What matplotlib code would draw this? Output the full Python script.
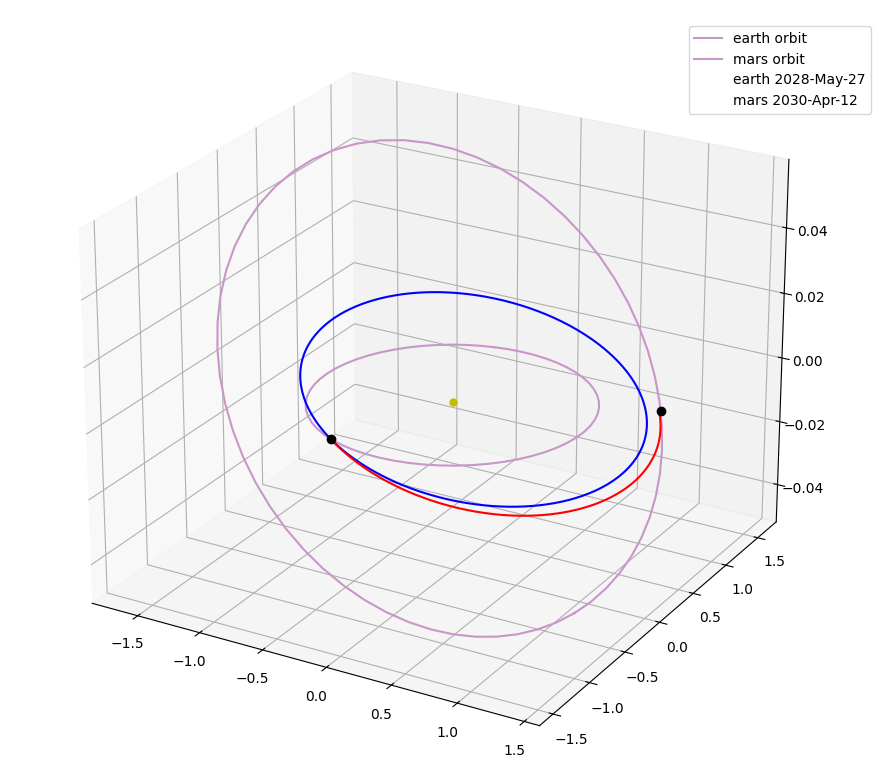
import numpy as np
import matplotlib
matplotlib.use("Agg")
import matplotlib.pyplot as plt

# orbital elements: a [AU], e, i [deg], node [deg], arg of perihelion [deg]
earth_el = [1.0, 0.0167, 0.0, 0.0, 102.94]
mars_el = [1.5237, 0.0934, 1.85, 48.5, 287.5]
transfer_el = [1.19, 0.149, 0.62, 65.9, 180.0]   # blue
lambert_el = [1.2446, 0.1863, 0.72, 65.9, 180.0]  # red arc

# true anomaly of the planets on the two dates [deg]
earth_nu = 143.0
mars_nu = 63.6
arc_nu = [0.0, 153.8]

n_orbit = 60
labels = ["earth orbit", "mars orbit", "earth 2028-May-27", "mars 2030-Apr-12"]
orbit_color = "#c896c8"
z_ticks = [-0.04, -0.02, 0.0, 0.02, 0.04]


def kepler_xyz(el, nu_deg):
    a, e, inc, node, w = el
    nu = np.radians(nu_deg)
    inc, node, w = np.radians(inc), np.radians(node), np.radians(w)
    r = a * (1 - e**2) / (1 + e * np.cos(nu))
    u = w + nu
    x = r * (np.cos(node) * np.cos(u) - np.sin(node) * np.sin(u) * np.cos(inc))
    y = r * (np.sin(node) * np.cos(u) + np.cos(node) * np.sin(u) * np.cos(inc))
    z = r * np.sin(u) * np.sin(inc)
    return x, y, z


def old_lims(v):
    # 5% margins plus the extra 1/48 padding older mpl drew around the box
    lo, hi = np.min(v), np.max(v)
    d = (hi - lo) * 0.05
    lo, hi = lo - d, hi + d
    d = (hi - lo) / 48
    return lo - d, hi + d


side = 802
cx, cy = 430, 392
fig = plt.figure(figsize=(8.96, 7.79), dpi=100)
ax = fig.add_subplot(projection="3d")
ax.set_position([(cx - side / 2) / 896, (779 - cy - side / 2) / 779,
                 side / 896, side / 779])
ax.set_box_aspect((4, 4, 3.16))
ax.view_init(elev=24.0, azim=-60)

nu_full = np.linspace(0, 360, n_orbit + 1)
earth_orb = kepler_xyz(earth_el, nu_full)
mars_orb = kepler_xyz(mars_el, nu_full)
ax.plot(*earth_orb, color=orbit_color, label=labels[0])
ax.plot(*mars_orb, color=orbit_color, label=labels[1])
ax.plot([], [], [], " ", label=labels[2])
ax.plot([], [], [], " ", label=labels[3])

nu_fine = np.linspace(0, 360, 400)
ax.plot(*kepler_xyz(transfer_el, nu_fine), color="b")
nu_arc = np.linspace(arc_nu[0], arc_nu[1], 200)
ax.plot(*kepler_xyz(lambert_el, nu_arc), color="r")

ex, ey, ez = kepler_xyz(earth_el, earth_nu)
mx, my, mz = kepler_xyz(mars_el, mars_nu)
ax.plot([ex], [ey], [ez], "ko")
ax.plot([mx], [my], [mz], "ko")
ax.plot([0], [0], [0], "yo", markersize=5)

ax.set_xlim(*old_lims(mars_orb[0]))
ax.set_ylim(*old_lims(mars_orb[1]))
ax.set_zlim(*old_lims(mars_orb[2]))
ax.set_zticks(z_ticks)

ax.legend(loc="upper right", bbox_to_anchor=(871 / 896, 1 - 26 / 779),
          bbox_transform=fig.transFigure, borderaxespad=0)

fig.savefig("out.png", dpi=100)
